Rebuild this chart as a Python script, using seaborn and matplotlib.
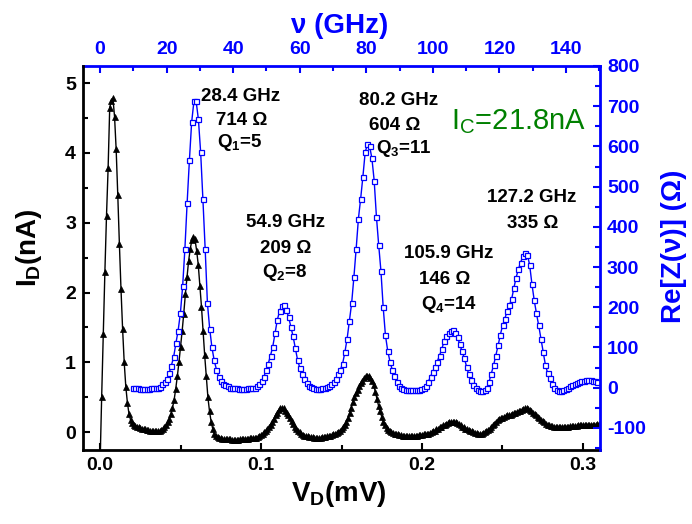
import numpy as np
import matplotlib
matplotlib.use("Agg")
import matplotlib.pyplot as plt
import seaborn as sns
from matplotlib.ticker import MultipleLocator

# ---------------- data ----------------
# I_D (nA) sampled every 0.001 mV from 0.000 to 0.310 mV
VD_START, VD_STOP = 0.000, 0.310
I_D = [
    -0.45, 0.51, 1.40, 2.30, 3.10, 3.78, 4.65, 4.75, 4.78, 4.52,
    4.05, 3.40, 2.70, 2.05, 1.48, 1.00, 0.65, 0.42, 0.26, 0.17,
    0.13, 0.11, 0.09, 0.08, 0.07, 0.06, 0.05, 0.05, 0.04, 0.03,
    0.03, 0.02, 0.02, 0.02, 0.01, 0.01, 0.01, 0.02, 0.03, 0.05,
    0.07, 0.10, 0.14, 0.19, 0.26, 0.35, 0.46, 0.62, 0.80, 1.00,
    1.22, 1.45, 1.70, 1.98, 2.22, 2.45, 2.62, 2.75, 2.80, 2.76,
    2.60, 2.40, 2.10, 1.80, 1.45, 1.10, 0.80, 0.50, 0.30, 0.15,
    0.05, -0.02, -0.05, -0.07, -0.08, -0.09, -0.10, -0.10, -0.10, -0.10,
    -0.10, -0.10, -0.11, -0.11, -0.11, -0.11, -0.11, -0.10, -0.10, -0.10,
    -0.10, -0.10, -0.10, -0.09, -0.09, -0.09, -0.08, -0.08, -0.07, -0.06,
    -0.04, -0.02, 0.00, 0.02, 0.05, 0.08, 0.11, 0.15, 0.19, 0.24,
    0.28, 0.32, 0.34, 0.35, 0.34, 0.31, 0.28, 0.24, 0.20, 0.16,
    0.12, 0.08, 0.05, 0.02, 0.00, -0.02, -0.04, -0.05, -0.06, -0.06,
    -0.07, -0.07, -0.07, -0.08, -0.08, -0.08, -0.08, -0.08, -0.07, -0.07,
    -0.07, -0.06, -0.06, -0.05, -0.04, -0.03, -0.02, -0.01, 0.00, 0.02,
    0.04, 0.07, 0.10, 0.15, 0.20, 0.27, 0.35, 0.43, 0.50, 0.56,
    0.61, 0.66, 0.70, 0.74, 0.77, 0.80, 0.81, 0.81, 0.78, 0.74,
    0.67, 0.58, 0.48, 0.38, 0.30, 0.22, 0.15, 0.10, 0.06, 0.03,
    0.01, 0.00, -0.01, -0.02, -0.03, -0.03, -0.04, -0.04, -0.05, -0.05,
    -0.05, -0.05, -0.05, -0.05, -0.05, -0.05, -0.05, -0.05, -0.04, -0.04,
    -0.04, -0.03, -0.03, -0.02, -0.02, -0.01, 0.00, 0.01, 0.02, 0.04,
    0.05, 0.07, 0.08, 0.10, 0.11, 0.12, 0.13, 0.14, 0.15, 0.15,
    0.15, 0.14, 0.13, 0.12, 0.10, 0.08, 0.07, 0.05, 0.04, 0.03,
    0.02, 0.01, 0.00, -0.01, -0.01, -0.02, -0.02, -0.02, -0.01, 0.00,
    0.01, 0.03, 0.05, 0.07, 0.10, 0.12, 0.15, 0.17, 0.19, 0.20,
    0.21, 0.22, 0.23, 0.24, 0.24, 0.25, 0.26, 0.27, 0.28, 0.29,
    0.30, 0.31, 0.32, 0.33, 0.34, 0.34, 0.33, 0.32, 0.30, 0.28,
    0.26, 0.24, 0.22, 0.20, 0.18, 0.16, 0.14, 0.12, 0.11, 0.10,
    0.09, 0.09, 0.08, 0.08, 0.08, 0.08, 0.08, 0.08, 0.08, 0.08,
    0.08, 0.08, 0.09, 0.09, 0.09, 0.09, 0.09, 0.10, 0.10, 0.10,
    0.10, 0.10, 0.11, 0.11, 0.11, 0.11, 0.11, 0.11, 0.11, 0.12, 0.12,
]

# Re[Z] (Ohm) sampled every 0.0014 mV from 0.0205 to 0.3089 mV
VZ_START, VZ_STOP = 0.0205, 0.3089
RE_Z = [
    -2, -2, -2, -3, -3, -3, -3, -3, -2, -2,
    -1, 0, 2, 8, 14, 21, 36, 55, 76, 110,
    142, 185, 252, 345, 460, 565, 660, 712, 712, 667,
    585, 468, 345, 210, 147, 100, 68, 45, 27, 17,
    10, 6, 3, 0, -1, -2, -2, -3, -3, -3,
    -3, -2, -2, -1, 0, 3, 9, 17, 26, 43,
    60, 80, 102, 135, 168, 190, 204, 206, 193, 176,
    152, 128, 98, 69, 49, 35, 22, 12, 5, 1,
    -2, -3, -3, -3, -2, -1, 1, 3, 8, 14,
    21, 33, 45, 60, 88, 122, 165, 210, 275, 345,
    420, 470, 525, 585, 606, 600, 570, 515, 425, 355,
    290, 200, 130, 92, 65, 45, 28, 14, 4, -1,
    -4, -6, -7, -7, -7, -7, -6, -5, -3, 0,
    5, 15, 27, 40, 52, 65, 80, 96, 115, 128,
    136, 142, 143, 137, 125, 108, 90, 74, 52, 33,
    18, 7, 0, -5, -9, -9, -7, 0, 15, 35,
    56, 80, 105, 132, 155, 172, 190, 206, 220, 248,
    274, 295, 311, 328, 335, 330, 305, 258, 218, 185,
    155, 122, 88, 56, 36, 23, 9, -2, -7, -8,
    -8, -6, -3, 0, 3, 6, 9, 12, 14, 16,
    17, 18, 18, 18, 17, 16, 15,
]

JOSEPHSON_GHZ_PER_MV = 483.6

PEAK_FREQ = ["28.4 GHz", "54.9 GHz", "80.2 GHz", "105.9 GHz", "127.2 GHz"]
PEAK_RES = ["714 Ω", "209 Ω", "604 Ω", "146 Ω", "335 Ω"]
PEAK_Q = ["Q$_1$=5", "Q$_2$=8", "Q$_3$=11", "Q$_4$=14", None]
IC_LABEL = "I$_C$=21.8nA"

V_D = np.linspace(VD_START, VD_STOP, len(I_D))
V_Z = np.linspace(VZ_START, VZ_STOP, len(RE_Z))

# ---------------- style ----------------
sns.set_theme(style="ticks")
plt.rcParams["font.family"] = ["Liberation Sans", "DejaVu Sans"]
plt.rcParams["mathtext.default"] = "regular"
plt.rcParams["axes.unicode_minus"] = False

BLUE = "#0000ff"
GREEN = "#008000"

fig = plt.figure(figsize=(6.92, 5.24), dpi=100)
ax = fig.add_axes([83 / 692, 74 / 524, 517 / 692, 384 / 524])
ax2 = ax.twinx()

sns.lineplot(x=V_D, y=I_D, ax=ax, color="black", linewidth=1.0,
             marker="^", markersize=4.6, markerfacecolor="black",
             markeredgecolor="black", markeredgewidth=0.5,
             estimator=None, sort=False)
sns.lineplot(x=V_Z, y=RE_Z, ax=ax2, color=BLUE, linewidth=1.0,
             marker="s", markersize=3.6, markerfacecolor="white",
             markeredgecolor=BLUE, markeredgewidth=0.9,
             estimator=None, sort=False)

ax.set_xlim(-0.0106, 0.3106)
ax.set_ylim(-0.255, 5.245)
ax2.set_ylim(-155, 800)

ax.xaxis.set_major_locator(MultipleLocator(0.1))
ax.xaxis.set_minor_locator(MultipleLocator(0.05))
ax.yaxis.set_major_locator(MultipleLocator(1))
ax.yaxis.set_minor_locator(MultipleLocator(0.5))
ax2.yaxis.set_major_locator(MultipleLocator(100))
ax2.yaxis.set_minor_locator(MultipleLocator(50))

sec = ax.secondary_xaxis("top", functions=(lambda v: v * JOSEPHSON_GHZ_PER_MV,
                                           lambda f: f / JOSEPHSON_GHZ_PER_MV))
sec.xaxis.set_major_locator(MultipleLocator(20))
sec.xaxis.set_minor_locator(MultipleLocator(10))

# spines
for s in ("top", "right"):
    ax.spines[s].set_visible(False)
for s in ("left", "bottom"):
    ax.spines[s].set_linewidth(2.0)
    ax.spines[s].set_color("black")
for s in ("left", "bottom", "top"):
    ax2.spines[s].set_visible(False)
ax2.spines["right"].set_color(BLUE)
ax2.spines["right"].set_linewidth(2.0)
sec.spines["top"].set_color(BLUE)
sec.spines["top"].set_linewidth(2.0)

tick_font = dict(labelsize=14)
ax.tick_params(axis="both", which="major", direction="in", length=5, width=1.5,
               colors="black", pad=5, **tick_font)
ax.tick_params(axis="both", which="minor", direction="in", length=3.5, width=1.5,
               colors="black")
ax.tick_params(axis="y", right=False)
ax.tick_params(axis="x", top=False)
ax2.tick_params(axis="y", which="major", direction="in", length=5, width=1.5,
                colors=BLUE, pad=5, **tick_font)
ax2.tick_params(axis="y", which="minor", direction="in", length=3.5, width=1.5,
                colors=BLUE)
sec.tick_params(axis="x", which="major", direction="in", length=5, width=1.5,
                colors=BLUE, pad=6, **tick_font)
sec.tick_params(axis="x", which="minor", direction="in", length=3.5, width=1.5,
                colors=BLUE)

for a in (ax, ax2, sec):
    for lab in a.get_xticklabels() + a.get_yticklabels():
        lab.set_fontweight("bold")

# axis labels
ax.set_xlabel("V$_D$(mV)", fontsize=20, fontweight="bold", color="black")
ax.set_ylabel("I$_D$(nA)", fontsize=20, fontweight="bold", color="black")
ax2.set_ylabel("Re[Z(ν)] (Ω)", fontsize=20, fontweight="bold", color=BLUE)
sec.set_xlabel("ν (GHz)", fontsize=20, fontweight="bold", color=BLUE)
ax.xaxis.set_label_coords(0.495, -0.075)
ax.yaxis.set_label_coords(-0.075, 0.526)
ax2.yaxis.set_label_coords(1.118, 0.531)
sec.xaxis.set_label_coords(0.497, 1.086, transform=ax.transAxes)

# annotations (axes-fraction positions; center x, baseline y)
freq_pos = [(0.3046, 0.910), (0.3926, 0.5807), (0.6112, 0.8984), (0.7066, 0.500), (0.8679, 0.6458)]
res_pos = [(0.3075, 0.8464), (0.3926, 0.5130), (0.6029, 0.8333), (0.7002, 0.4323), (0.8694, 0.5781)]
q_pos = [(0.3037, 0.789), (0.3907, 0.4505), (0.6199, 0.7734), (0.7079, 0.3672), None]
ann = dict(transform=ax.transAxes, ha="center", va="baseline", fontsize=13.5,
           fontweight="bold", color="black", zorder=5)
for f, r, q, fp, rp, qp in zip(PEAK_FREQ, PEAK_RES, PEAK_Q, freq_pos, res_pos, q_pos):
    ax2.text(*fp, f, **ann)
    ax2.text(*rp, r, **ann)
    if q is not None:
        ax2.text(*qp, q, **ann)

ax2.text(0.8433, 0.8359, IC_LABEL, transform=ax.transAxes, ha="center",
         va="baseline", fontsize=21, color=GREEN)

fig.savefig("out.png", dpi=100)
